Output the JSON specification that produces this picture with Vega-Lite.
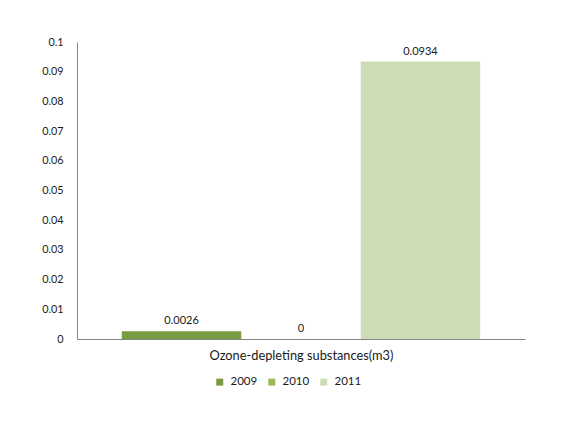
{
  "$schema": "https://vega.github.io/schema/vega-lite/v6.json",
  "autosize": {"type": "none"},
  "width": 448,
  "height": 297,
  "padding": {"left": 77, "top": 42, "right": 36, "bottom": 82},
  "background": "white",
  "config": {
    "view": {"stroke": null},
    "font": "Lato",
    "text": {"font": "Lato"}
  },
  "data": {
    "values": [
      {"category": "Ozone-depleting substances(m3)", "year": "2009", "value": 0.0026},
      {"category": "Ozone-depleting substances(m3)", "year": "2010", "value": 0},
      {"category": "Ozone-depleting substances(m3)", "year": "2011", "value": 0.0934}
    ]
  },
  "encoding": {
    "x": {
      "field": "year",
      "type": "nominal",
      "scale": {"domain": ["2009", "2010", "2011"], "paddingInner": 0, "paddingOuter": 0.375},
      "axis": {
        "title": "Ozone-depleting substances(m3)",
        "labels": false,
        "ticks": false,
        "domainColor": "#868686",
        "domainWidth": 1,
        "titleFont": "Lato",
        "titleFontSize": 12.8,
        "titleFontWeight": "normal",
        "titleColor": "#1a1a1a",
        "titlePadding": 10
      }
    },
    "y": {
      "field": "value",
      "type": "quantitative",
      "scale": {"domain": [0, 0.1], "nice": false},
      "axis": {
        "title": null,
        "values": [0, 0.01, 0.02, 0.03, 0.04, 0.05, 0.06, 0.07, 0.08, 0.09, 0.1],
        "format": "~g",
        "grid": false,
        "ticks": false,
        "domainColor": "#868686",
        "labelFont": "Lato",
        "labelFontSize": 10.8,
        "labelColor": "#1a1a1a",
        "labelPadding": 14
      }
    }
  },
  "layer": [
    {
      "mark": {"type": "bar"},
      "encoding": {
        "color": {
          "field": "year",
          "type": "nominal",
          "scale": {"domain": ["2009", "2010", "2011"], "range": ["#7a9a44", "#9bbb59", "#cddcb2"]},
          "legend": {
            "title": null,
            "orient": "none",
            "direction": "horizontal",
            "legendX": 137,
            "legendY": 334,
            "symbolType": "square",
            "symbolSize": 49,
            "symbolStrokeWidth": 0,
            "labelFont": "Lato",
            "labelFontSize": 11.5,
            "labelColor": "#1a1a1a",
            "labelOffset": 5,
            "columnPadding": 8
          }
        }
      }
    },
    {
      "mark": {"type": "text", "baseline": "middle", "dy": -10, "fontSize": 11, "color": "#1a1a1a"},
      "encoding": {
        "text": {"field": "value", "type": "quantitative", "format": "~g"}
      }
    }
  ]
}
